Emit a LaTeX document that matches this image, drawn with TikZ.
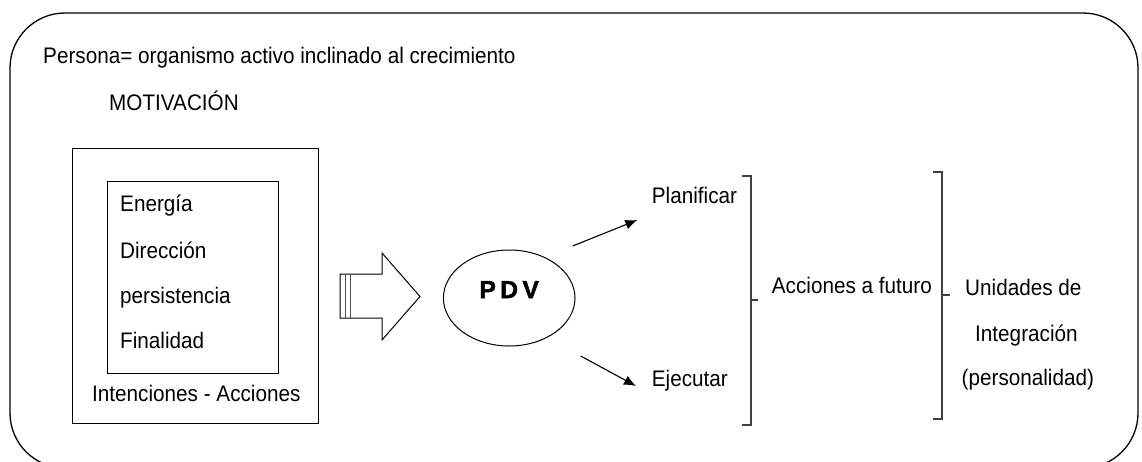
\documentclass[tikz,border=0pt]{standalone}
\usepackage{fontspec}
\setmainfont{Liberation Sans}
\newfontfamily\diagfont[FakeStretch=0.92]{Liberation Sans}
\newfontfamily\pdvfont[BoldFeatures={FakeBold=2}]{Liberation Sans}
\usetikzlibrary{arrows.meta, positioning, shapes.geometric, calc}

\begin{document}
\begin{tikzpicture}[x=1pt, y=-1pt,
    txt/.style={inner sep=0pt, anchor=base west, font=\diagfont\fontsize{22.5}{26}\selectfont},
    box/.style={draw, line width=1pt, inner sep=0pt},
    arr/.style={-{Latex[length=12pt, width=10pt]}, line width=1.1pt},
    brk/.style={draw=black!75, line width=1.6pt}]
    \useasboundingbox (0,0) rectangle (1142,461);
    \draw[line width=1.3pt, rounded corners=55pt] (10,13) rectangle (1138,468);
    \node[txt] (persona) at (43,63) {Persona= organismo activo inclinado al crecimiento};
    \node[txt] (motiv) at (109,110) {MOTIVACIÓN};
    % intenciones
    \node[box, minimum width=246pt, minimum height=275pt] (outer) at (195,285.5) {};
    \node[box, minimum width=171pt, minimum height=191.5pt] (inner) at (193.2,277.5) {};
    \node[txt] (energia) at (120,211.7) {Energía};
    \node[txt] (direc) at (120,258) {Dirección};
    \node[txt] (persis) at (120,303) {persistencia};
    \node[txt] (final) at (120,348) {Finalidad};
    \node[txt] (intenc) at (92,401.7) {Intenciones - Acciones};
    % block arrow
    \draw[line width=1pt, line join=miter] (340,274) -- (382,274) -- (382,253) -- (420,296.5)
        -- (382,340) -- (382,318) -- (340,318) -- cycle;
    \draw[line width=0.8pt, black!70] (345,274) -- (345,318) (350,274) -- (350,318);
    % pdv
    \node[draw, ellipse, line width=1pt, minimum width=131.6pt, minimum height=96pt,
        font=\pdvfont\fontsize{24.5}{28}\bfseries] (pdv) at (509.2,298)
        {\raisebox{0pt}[0pt][0pt]{P\hspace{4.5pt}D\hspace{4.5pt}V}};
    \node[txt] (plan) at (651.7,203.3) {Planificar};
    \node[txt] (ejec) at (651.7,386.7) {Ejecutar};
    \coordinate (a1) at (572.7,246);
    \coordinate (a2) at (580.7,356);
    \draw[arr] (a1) -- ($(plan.base west)+(-14.4,16.7)$);
    \draw[arr] (a2) -- ($(ejec.base west)+(-15.7,-0.7)$);
    % acciones
    \draw[brk] (741.7,176) -- (751,176) -- (751,425) -- (741.7,425);
    \draw[brk] (751,300) -- (758,300);
    \node[txt] (acc) at (771.7,293.3) {Acciones a futuro};
    \draw[brk] (932.7,172) -- (942,172) -- (942,419) -- (932.7,419);
    \draw[brk] (942,295) -- (950,295);
    \node[txt] (unid) at (965,295) {Unidades de};
    \node[txt] (integ) at (975,341) {Integración};
    \node[txt] (perso) at (961.5,385) {(personalidad)};
\end{tikzpicture}
\end{document}
